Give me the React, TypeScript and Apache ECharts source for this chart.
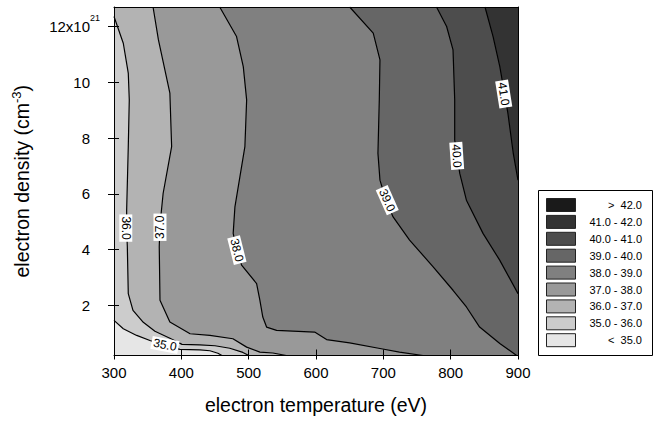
import React, { useEffect, useRef } from "react";
import * as echarts from "echarts";

const FONT = "'Liberation Sans', Arial, Helvetica, sans-serif";

// axis ranges
const X_MIN = 300;
const X_MAX = 900;
const Y_MIN = 0.2;
const Y_MAX = 12.7;
const yTicks = [2, 4, 6, 8, 10, 12];

// contour lines: [electron temperature (eV), electron density (1e21 cm^-3)]
const line35 = [[300, 1.46], [313.8, 1.16], [333.7, 0.92], [353.4, 0.74], [375.7, 0.56], [398, 0.42], [427.6, 0.4], [442.5, 0.37], [454.3, 0.28], [460.3, 0.2]];
const line36 = [[300, 12.36], [313.8, 11.4], [321.2, 10.33], [322.7, 9.37], [321.2, 7.69], [318.8, 5.41], [318.8, 4.7], [319.8, 4.1], [321.2, 2.42], [328.2, 1.82], [343.5, 1.39], [360.8, 1.07], [383, 0.82], [401, 0.6], [427.6, 0.58], [450, 0.55], [472, 0.46], [491.4, 0.31], [500.3, 0.2]];
const line37 = [[358, 12.7], [366, 11.52], [383, 9.61], [385.6, 7.69], [373, 6.02], [368.3, 4.88], [367.2, 4.1], [368.3, 2.18], [383, 1.4], [413, 0.98], [442.5, 0.92], [476.6, 0.8], [497, 0.5], [516.7, 0.32], [536, 0.29], [556, 0.2]];
const line38 = [[457, 12.7], [482, 11.64], [492, 10.56], [497, 9.37], [494.4, 7.69], [479.6, 5.53], [477, 4.58], [482.5, 3.98], [489.5, 3.44], [511.8, 2.78], [516.7, 2.18], [521, 1.58], [526.6, 1.22], [541.5, 1.1], [598, 1.04], [615.7, 0.77], [650, 0.65], [695, 0.45], [724, 0.32], [759, 0.2]];
const line39 = [[650, 12.7], [685, 11.76], [695, 10.8], [694, 9.37], [692, 7.45], [695, 6.49], [704, 5.77], [714.5, 5.17], [739, 4.34], [774, 3.38], [803.5, 2.54], [823.4, 1.94], [843, 1.22], [873, 0.63], [898, 0.2]];
const line40 = [[779, 12.7], [794, 12.0], [803.5, 11.16], [806, 9.37], [806, 7.93], [810.5, 7.21], [813.5, 6.73], [823.4, 5.77], [848, 4.58], [872.8, 3.62], [900, 2.42]];
const line41 = [[851, 12.7], [863, 11.64], [873, 10.56], [879, 9.73], [885, 8.89], [893, 7.45], [900, 6.49]];

const contourLines = [line35, line36, line37, line38, line39, line40, line41];
const levelNames = ["35.0", "36.0", "37.0", "38.0", "39.0", "40.0", "41.0"];

// contour label positions: [T, n, rotation deg]
const labelT = [375.7, 317.5, 368.3, 482.5, 705.8, 809, 878.8];
const labelN = [0.58, 4.77, 4.8, 3.98, 5.77, 7.36, 9.58];
const labelRot = [-11, -90, 90, -76, -66, -86, -81];

// band colours, low to high
const bandColors = ["#e6e6e6", "#cccccc", "#b3b3b3", "#999999", "#808080", "#666666", "#4d4d4d", "#333333", "#1a1a1a"];
const legendLabels = [">  42.0", "41.0 - 42.0", "40.0 - 41.0", "39.0 - 40.0", "38.0 - 39.0", "37.0 - 38.0", "36.0 - 37.0", "35.0 - 36.0", "<  35.0"];
const legendColors = [...bandColors].reverse();

// which plot corners close the "lower" side of each contour line
const closures = [["BL"], ["BL"], ["BL", "TL"], ["BL", "TL"], ["BL", "TL"], ["BR", "BL", "TL"], ["BR", "BL", "TL"]];

export default function App() {
  const ref = useRef<HTMLDivElement>(null);
  useEffect(() => {
    document.body.style.margin = "0";
    if (!ref.current) return;
    const chart = echarts.init(ref.current, null, { renderer: "svg" });
    const corner: Record<string, number[]> = {
      TL: [X_MIN, Y_MAX], TR: [X_MAX, Y_MAX], BL: [X_MIN, Y_MIN], BR: [X_MAX, Y_MIN],
    };
    // painter's order: full plot with top band, then each line's lower side from high to low
    const fills: { pts: number[][]; color: string }[] = [
      { pts: [corner.TL, corner.TR, corner.BR, corner.BL], color: bandColors[7] },
    ];
    for (let i = contourLines.length - 1; i >= 0; i--) {
      fills.push({
        pts: [...contourLines[i], ...closures[i].map((c) => corner[c])],
        color: bandColors[i],
      });
    }

    const axisBase = { type: "value" as const, min: X_MIN, max: X_MAX, interval: 100, z: 10, splitLine: { show: false } };
    const yBase = { type: "value" as const, min: Y_MIN, max: Y_MAX, z: 10, splitLine: { show: false } };

    const option: any = {
      animation: false,
      grid: { left: 114, right: 144, top: 7, bottom: 68.5, containLabel: false },
      xAxis: [
        {
          ...axisBase,
          position: "bottom",
          axisLine: { show: true, lineStyle: { color: "#000", width: 1 } },
          axisTick: { show: true, inside: false, length: 4, lineStyle: { color: "#000", width: 1 } },
          axisLabel: { color: "#000", fontSize: 15, fontFamily: FONT, margin: 9 },
          name: "electron temperature (eV)",
          nameLocation: "middle",
          nameGap: 39,
          nameTextStyle: { color: "#000", fontSize: 19.5, fontFamily: FONT },
        },
        {
          ...axisBase,
          position: "bottom",
          axisLine: { show: false },
          axisTick: { show: true, inside: true, length: 6, lineStyle: { color: "#000", width: 1 } },
          axisLabel: { show: false },
        },
        {
          ...axisBase,
          position: "top",
          axisLine: { show: true, lineStyle: { color: "#000", width: 1 } },
          axisTick: { show: false },
          axisLabel: { show: false },
        },
      ],
      yAxis: [
        {
          ...yBase,
          position: "left",
          axisLine: { show: true, lineStyle: { color: "#000", width: 1 } },
          axisTick: { show: true, inside: false, length: 6, customValues: yTicks, lineStyle: { color: "#000", width: 1 } },
          axisLabel: {
            customValues: yTicks,
            margin: 14,
            formatter: (v: number) => (v === 12 ? "{n|12x10}{s|21}" : `{n|${v}}{p| }`),
            rich: {
              n: { fontSize: 15, lineHeight: 26, fontFamily: FONT, color: "#000" },
              s: { fontSize: 9, lineHeight: 9, verticalAlign: "top", width: 10, fontFamily: FONT, color: "#000" },
              p: { fontSize: 9, width: 10, fontFamily: FONT },
            },
          },
          name: "electron density (cm{s|-3})",
          nameLocation: "middle",
          nameGap: 80,
          nameTextStyle: {
            color: "#000",
            fontSize: 19.5,
            lineHeight: 24,
            fontFamily: FONT,
            rich: { s: { fontSize: 13, lineHeight: 13, verticalAlign: "top", fontFamily: FONT, color: "#000" } },
          },
        },
        {
          ...yBase,
          position: "left",
          offset: 0,
          axisLine: { show: false },
          axisTick: { show: true, inside: true, length: 5, customValues: yTicks, lineStyle: { color: "#000", width: 1 } },
          axisLabel: { show: false },
        },
        {
          ...yBase,
          position: "right",
          axisLine: { show: true, lineStyle: { color: "#000", width: 1 } },
          axisTick: { show: false },
          axisLabel: { show: false },
        },
      ],
      series: [
        {
          type: "custom",
          xAxisIndex: 0,
          yAxisIndex: 0,
          z: 1,
          silent: true,
          clip: true,
          encode: { x: 0, y: 1 },
          data: fills.map((_, i) => [X_MIN, Y_MIN, i]),
          renderItem: (params: any, api: any) => {
            const f = fills[params.dataIndex];
            return {
              type: "polygon",
              shape: { points: f.pts.map((p) => api.coord(p)) },
              style: { fill: f.color, stroke: f.color, lineWidth: 0.5 },
            };
          },
        },
        ...contourLines.map((ln) => ({
          type: "line",
          xAxisIndex: 0,
          yAxisIndex: 0,
          z: 3,
          silent: true,
          showSymbol: false,
          symbol: "none",
          data: ln,
          lineStyle: { color: "#000", width: 1.2 },
        })),
        {
          type: "custom",
          xAxisIndex: 0,
          yAxisIndex: 0,
          z: 5,
          silent: true,
          encode: { x: 0, y: 1 },
          data: labelT.map((t, i) => [t, labelN[i], labelRot[i], i]),
          renderItem: (params: any, api: any) => {
            const p = api.coord([api.value(0), api.value(1)]);
            const i = params.dataIndex;
            return {
              type: "text",
              x: p[0],
              y: p[1],
              rotation: (labelRot[i] * Math.PI) / 180,
              style: {
                text: levelNames[i],
                fill: "#000",
                fontSize: 12,
                fontFamily: FONT,
                backgroundColor: "#fff",
                padding: [1, 2, 0, 2],
                align: "center",
                verticalAlign: "middle",
              },
            };
          },
        },
      ],
      graphic: [
        {
          type: "group",
          left: 538,
          top: 190,
          children: [
            { type: "rect", shape: { x: 0.5, y: 0.5, width: 114, height: 165 }, style: { fill: "#fff", stroke: "#000", lineWidth: 1 } },
            ...legendLabels.flatMap((t, i) => [
              {
                type: "rect",
                shape: { x: 8.5, y: 8.5 + i * 16.9, width: 29, height: 13 },
                style: { fill: legendColors[i], stroke: "#222", lineWidth: 1 },
              },
              {
                type: "text",
                x: 104,
                y: 15 + i * 16.9,
                style: { text: t, align: "right", verticalAlign: "middle", fontSize: 11, fontFamily: FONT, fill: "#000" },
              },
            ]),
          ],
        },
      ],
    };
    chart.setOption(option);
    return () => chart.dispose();
  }, []);
  return <div ref={ref} style={{ width: 662, height: 424 }} />;
}
